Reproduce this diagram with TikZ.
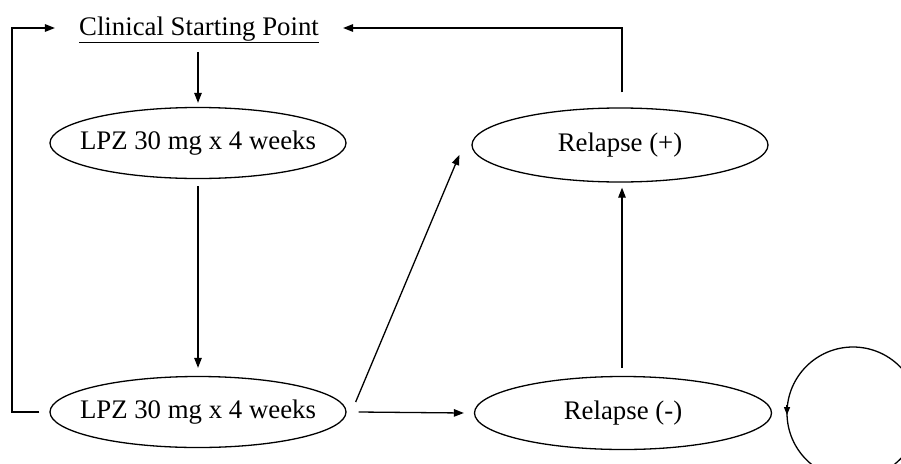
\documentclass[tikz,border=0pt]{standalone}
\usepackage{fontspec}
\setmainfont{Liberation Serif}
\usetikzlibrary{shapes.geometric,arrows.meta}
\begin{document}
\begin{tikzpicture}[x=1pt,y=-1pt,
  lw/.style={line width=1.3pt},
  arr/.style={lw,-{Triangle[length=10pt,width=7.5pt]}},
  smallarr/.style={lw,-{Triangle[length=8pt,width=6pt]}},
  oval/.style={ellipse,draw,lw,inner sep=0pt,minimum width=296pt,minimum height=71pt,
    font=\fontsize{26.8}{30}\selectfont},
  lbl/.style={inner sep=0pt,font=\fontsize{26.8}{30}\selectfont}]
\useasboundingbox (0,0) rectangle (901,463);
\clip (0,0) rectangle (901,463);
\node[lbl,anchor=base] (start) at (199,35) {\underline{Clinical Starting Point}};
\node[oval] (e1) at (198,143) {\makebox[0pt]{LPZ 30 mg x 4 weeks}};
\node[oval] (e2) at (198,412) {\makebox[0pt]{LPZ 30 mg x 4 weeks}};
\node[oval,minimum height=74pt] (rp) at (620,145) {\makebox[0pt]{Relapse (+)}};
\node[oval,minimum height=73pt,minimum width=297pt] (rm) at (623,413) {\makebox[0pt]{Relapse (-)}};
\coordinate (loopc) at (853,413);
% connectors
\draw[arr] (e1.north |- start.south) ++(0,9) -- ([yshift=4pt]e1.north);
\draw[arr] ([yshift=-7pt]e1.south) -- ([yshift=8pt]e2.north);
\draw[arr] ([xshift=12pt]e2.east) -- ([xshift=-10pt]rm.west);
\draw[arr] ([xshift=9pt,yshift=10pt]e2.east) -- ([xshift=-12pt,yshift=-10pt]rp.west);
\draw[arr] ([xshift=-1pt,yshift=8pt]rm.north) -- ([xshift=2pt,yshift=-5pt]rp.south);
\draw[arr] ([xshift=2pt,yshift=15pt]rp.north) |- ([xshift=24pt]start.east |- 0,28);
\draw[arr] ([xshift=-10pt]e2.west) -| (12,28) -- ([xshift=-24pt]start.west |- 0,28);
% self loop
\draw[lw] (loopc) circle[radius=66pt];
\draw[smallarr] ([xshift=-66pt,yshift=8pt]loopc) -- ([xshift=-66pt,yshift=-2pt]loopc);
\end{tikzpicture}
\end{document}
